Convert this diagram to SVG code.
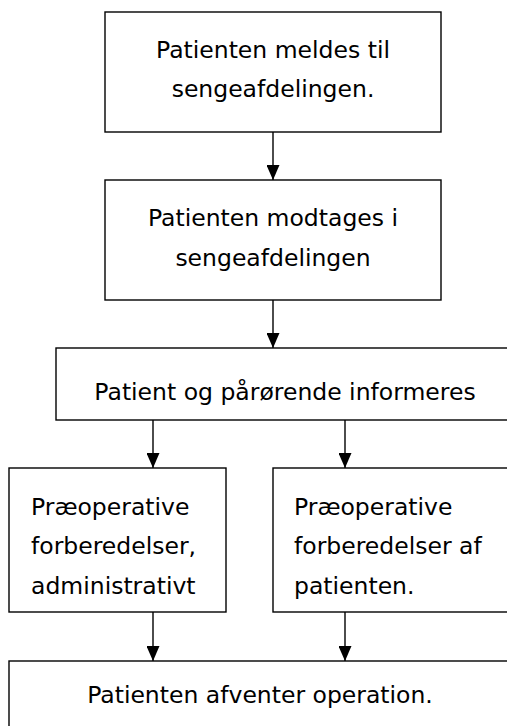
<svg xmlns="http://www.w3.org/2000/svg" width="507" height="726" viewBox="0 0 507 726">
<style>
.box{fill:#fff;stroke:#000;stroke-width:1.4}
.t{font-family:"DejaVu Sans",Verdana,sans-serif;font-size:23.5px;fill:#000}
.c{text-anchor:middle}
.edge{stroke:#000;stroke-width:1.4;fill:none;marker-end:url(#ah)}
</style>
<defs>
<marker id="ah" markerWidth="15" markerHeight="13" refX="15" refY="6.5" orient="auto" markerUnits="userSpaceOnUse" viewBox="0 0 15 13">
<path d="M0,0 L15,6.5 L0,13 Z" fill="#000"/>
</marker>
</defs>
<rect width="507" height="726" fill="#fff"/>
<g id="connectors">
<line class="edge" x1="273" y1="132" x2="273" y2="180"/>
<line class="edge" x1="273" y1="300" x2="273" y2="348"/>
<line class="edge" x1="153" y1="420" x2="153" y2="468"/>
<line class="edge" x1="345" y1="420" x2="345" y2="468"/>
<line class="edge" x1="153" y1="612" x2="153" y2="661"/>
<line class="edge" x1="345" y1="612" x2="345" y2="661"/>
</g>
<g id="n1">
<rect class="box" x="105" y="12" width="336" height="120"/>
<text class="t c" x="273" y="58">Patienten meldes til</text>
<text class="t c" x="273" y="97">sengeafdelingen.</text>
</g>
<g id="n2">
<rect class="box" x="105" y="180" width="336" height="120"/>
<text class="t c" x="273" y="226">Patienten modtages i</text>
<text class="t c" x="273" y="266">sengeafdelingen</text>
</g>
<g id="n3">
<rect class="box" x="56" y="348" width="460" height="72"/>
<text class="t c" x="285" y="400">Patient og pårørende informeres</text>
</g>
<g id="n4">
<rect class="box" x="9" y="468" width="217" height="144"/>
<text class="t" x="31" y="515">Præoperative</text>
<text class="t" x="31" y="554">forberedelser,</text>
<text class="t" x="31" y="594">administrativt</text>
</g>
<g id="n5">
<rect class="box" x="273" y="468" width="245" height="144"/>
<text class="t" x="294" y="515">Præoperative</text>
<text class="t" x="294" y="554">forberedelser af</text>
<text class="t" x="294" y="594">patienten.</text>
</g>
<g id="n6">
<rect class="box" x="9" y="661" width="510" height="80"/>
<text class="t c" x="260" y="703">Patienten afventer operation.</text>
</g>
</svg>
